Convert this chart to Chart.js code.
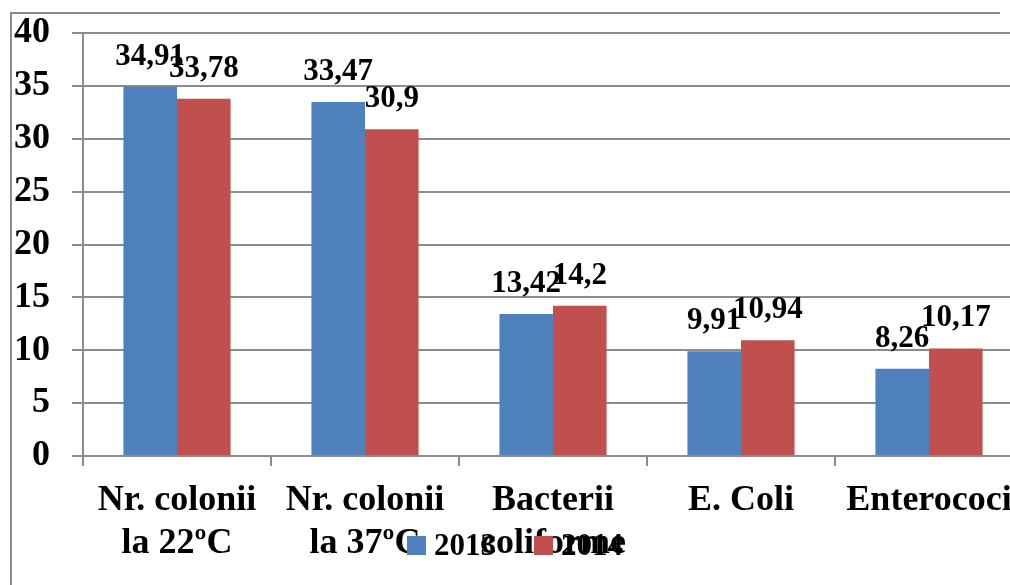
<!DOCTYPE html>
<html lang="ro">
<head>
  <meta charset="UTF-8">
  <title>Bacterii 2013 - 2014</title>
  <script src="https://cdn.jsdelivr.net/npm/chart.js"></script>
  <style>
    html, body { margin: 0; padding: 0; overflow: hidden; background: #fff; }
    .edge { position: absolute; background: #8c8c8c; }
    #edgeLeft { left: 10px; top: 12px; width: 2px; height: 580px; }
    #edgeTop { left: 10px; top: 12px; width: 990px; height: 2px; }
    #clip { position: absolute; left: 0; top: 0; width: 1010px; height: 585px; overflow: hidden; }
    #wrap { position: absolute; left: 0; top: 0; width: 1030px; height: 585px; }
  </style>
</head>
<body>
  <div id="clip">
    <div class="edge" id="edgeLeft"></div>
    <div class="edge" id="edgeTop"></div>
    <div id="wrap"><canvas id="chart"></canvas></div>
  </div>

  <script>
    const categories = [
      ['Nr. colonii', 'la 22ºC'],
      ['Nr. colonii', 'la 37ºC'],
      ['Bacterii', 'coliforme'],
      ['E. Coli'],
      ['Enterococi']
    ];
    const values2013 = [34.91, 33.47, 13.42, 9.91, 8.26];
    const values2014 = [33.78, 30.9, 14.2, 10.94, 10.17];
    const yTicks = [0, 5, 10, 15, 20, 25, 30, 35, 40];

    const serif = "'Liberation Serif', 'Times New Roman', serif";
    Chart.defaults.font.family = serif;
    Chart.defaults.font.weight = 'bold';
    Chart.defaults.color = '#000';

    // value labels above each bar, decimal comma
    const valueLabels = {
      id: 'valueLabels',
      afterDatasetsDraw(chart) {
        const ctx = chart.ctx;
        ctx.save();
        ctx.font = 'bold 31px ' + serif;
        ctx.fillStyle = '#000';
        ctx.textAlign = 'center';
        ctx.textBaseline = 'alphabetic';
        chart.data.datasets.forEach((ds, i) => {
          chart.getDatasetMeta(i).data.forEach((bar, j) => {
            ctx.fillText(String(ds.data[j]).replace('.', ','), bar.x, bar.y - 22);
          });
        });
        ctx.restore();
      }
    };

    // legend drawn at the bottom, on top of the axis labels
    const bottomLegend = {
      id: 'bottomLegend',
      afterDraw(chart) {
        const ctx = chart.ctx;
        ctx.save();
        ctx.font = 'bold 31px ' + serif;
        ctx.textBaseline = 'alphabetic';
        ctx.textAlign = 'left';
        const box = 19, gap = 8, between = 38;
        const items = chart.data.datasets.map(ds => ({
          label: ds.label, color: ds.backgroundColor, w: box + gap + ctx.measureText(ds.label).width
        }));
        const total = items.reduce((s, it) => s + it.w, 0) + between * (items.length - 1);
        let x = chart.width / 2 - total / 2;
        const base = 555;
        items.forEach(it => {
          ctx.fillStyle = it.color;
          ctx.fillRect(x, base - box, box, box);
          ctx.fillStyle = '#000';
          ctx.fillText(it.label, x + box + gap, base);
          x += it.w + between;
        });
        ctx.restore();
      }
    };

    new Chart(document.getElementById('chart'), {
      type: 'bar',
      data: {
        labels: categories,
        datasets: [
          { label: '2013', data: values2013, backgroundColor: '#4F81BD' },
          { label: '2014', data: values2014, backgroundColor: '#C0504D' }
        ]
      },
      options: {
        responsive: true,
        maintainAspectRatio: false,
        animation: false,
        layout: { padding: { top: 33, left: 0, right: 7, bottom: 0 } },
        datasets: { bar: { barPercentage: 1, categoryPercentage: 0.57 } },
        plugins: { legend: { display: false }, tooltip: { enabled: false } },
        scales: {
          x: {
            grid: { offset: true, drawOnChartArea: false, tickLength: 10, color: '#8c8c8c', lineWidth: 2 },
            border: { color: '#8c8c8c', width: 2 },
            ticks: { font: { size: 36, weight: 'bold', lineHeight: 1.2 }, padding: 13, maxRotation: 0, autoSkip: false },
            afterFit(scale) { scale.height = 129; }
          },
          y: {
            min: 0,
            max: 40,
            afterBuildTicks(scale) { scale.ticks = yTicks.map(v => ({ value: v })); },
            grid: { tickLength: 11, color: '#8c8c8c', lineWidth: 2 },
            border: { color: '#8c8c8c', width: 2 },
            ticks: { font: { size: 36, weight: 'bold' }, padding: 22 },
            afterFit(scale) {
              scale.width = 83;
              scale.paddingTop = 0;
              scale.paddingBottom = 0;
            }
          }
        }
      },
      plugins: [valueLabels, bottomLegend]
    });
  </script>
</body>
</html>
